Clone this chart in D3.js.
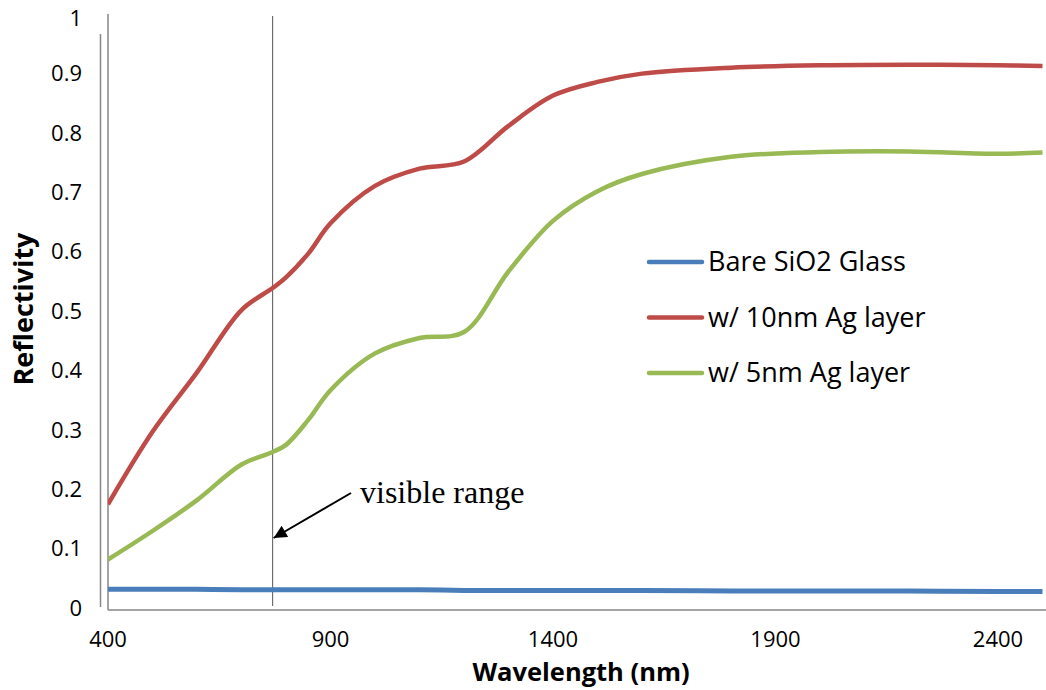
<!DOCTYPE html>
<html>
<head>
<meta charset="utf-8">
<script src="https://cdn.jsdelivr.net/npm/d3@7"></script>
<style>
  body { margin: 0; background: #fff; }
  svg { display: block; }
</style>
</head>
<body>
<div class="graph"></div>
<script>
// Datos
const wavelengths = [400, 500, 600, 700, 770, 800, 850, 900, 1000, 1100, 1200, 1300, 1400, 1500, 1600, 1800, 2000, 2200, 2400, 2500];
const bareGlass   = [0.035, 0.035, 0.035, 0.034, 0.034, 0.034, 0.034, 0.034, 0.034, 0.034, 0.033, 0.033, 0.033, 0.033, 0.033, 0.032, 0.032, 0.032, 0.031, 0.031];
const ag10nm      = [0.178, 0.30, 0.40, 0.505, 0.542, 0.56, 0.60, 0.651, 0.714, 0.743, 0.755, 0.815, 0.866, 0.889, 0.903, 0.913, 0.917, 0.918, 0.917, 0.916];
const ag5nm       = [0.085, 0.133, 0.185, 0.245, 0.266, 0.278, 0.32, 0.37, 0.432, 0.458, 0.468, 0.57, 0.655, 0.705, 0.734, 0.763, 0.771, 0.772, 0.768, 0.770];
const seriesNames = ["Bare SiO2 Glass", "w/ 10nm Ag layer", "w/ 5nm Ag layer"];
const seriesColors = ["#4a7ebb", "#be4b48", "#98b954"];
const xTicks = [400, 900, 1400, 1900, 2400];
const yTicks = [0, 0.1, 0.2, 0.3, 0.4, 0.5, 0.6, 0.7, 0.8, 0.9, 1];
const visibleEdge = 770;

const width = 1046;
const height = 690;

const svg = d3.select(".graph")
    .append("svg")
    .attr("width", width)
    .attr("height", height);

// Escalas
const xScale = d3.scaleLinear().domain([400, 2400]).range([108, 998]);
const yScale = d3.scaleLinear().domain([0, 1]).range([610, 16]);
const xEnd = 1046;

const axisFont = "'Open Sans', Lato, sans-serif";

// Línea extra a la izquierda
svg.append("line")
    .attr("x1", 100.5).attr("x2", 100.5)
    .attr("y1", 34).attr("y2", 607)
    .attr("stroke", "#868686").attr("stroke-width", 1.5);

// Ejes
svg.append("line")
    .attr("x1", 108).attr("x2", 108)
    .attr("y1", 14).attr("y2", yScale(0))
    .attr("stroke", "#868686").attr("stroke-width", 1.5);
svg.append("line")
    .attr("x1", 108).attr("x2", xEnd)
    .attr("y1", yScale(0)).attr("y2", yScale(0))
    .attr("stroke", "#868686").attr("stroke-width", 1.5);

// Etiquetas eje Y
svg.append("g")
    .selectAll("text")
    .data(yTicks)
    .join("text")
    .attr("x", 82)
    .attr("y", d => d === 1 ? yScale(d) + 2 : yScale(d) - 2)
    .attr("dy", "0.35em")
    .attr("text-anchor", "end")
    .style("font-family", axisFont)
    .style("font-size", "22px")
    .text(d => d3.format("~g")(d));

// Etiquetas eje X
svg.append("g")
    .selectAll("text")
    .data(xTicks)
    .join("text")
    .attr("x", d => xScale(d))
    .attr("y", 639)
    .attr("dy", "0.35em")
    .attr("text-anchor", "middle")
    .style("font-family", axisFont)
    .style("font-size", "22px")
    .text(d => d);

// Títulos de ejes
svg.append("text")
    .attr("x", 581).attr("y", 672)
    .attr("dy", "0.35em")
    .attr("text-anchor", "middle")
    .style("font-family", axisFont)
    .style("font-size", "25.5px")
    .style("font-weight", "bold")
    .text("Wavelength (nm)");

svg.append("text")
    .attr("transform", "translate(24, 309) rotate(-90)")
    .attr("dy", "0.35em")
    .attr("text-anchor", "middle")
    .style("font-family", axisFont)
    .style("font-size", "27px")
    .style("font-weight", "bold")
    .text("Reflectivity");

// Límite del rango visible
svg.append("line")
    .attr("x1", xScale(visibleEdge)).attr("x2", xScale(visibleEdge))
    .attr("y1", 16).attr("y2", 606)
    .attr("stroke", "#555").attr("stroke-width", 1);

// Series
const series = [bareGlass, ag10nm, ag5nm];
const line = d3.line()
    .x(d => xScale(d[0]))
    .y(d => yScale(d[1]))
    .curve(d3.curveCatmullRom.alpha(0.5));

svg.append("defs").append("clipPath")
    .attr("id", "plot-clip")
    .append("rect")
    .attr("x", 108).attr("y", 0)
    .attr("width", xEnd - 108).attr("height", 612);

svg.append("g")
    .attr("clip-path", "url(#plot-clip)")
    .selectAll("path")
    .data(series)
    .join("path")
    .attr("d", vals => line(wavelengths.map((w, i) => [w, vals[i]])))
    .attr("fill", "none")
    .attr("stroke", (d, i) => seriesColors[i])
    .attr("stroke-width", (d, i) => i === 0 ? 5 : 4.5)
    .attr("stroke-linejoin", "round");

// Leyenda
const legend = svg.append("g").attr("transform", "translate(649, 262)");
seriesNames.forEach((name, i) => {
    const row = legend.append("g").attr("transform", `translate(0, ${i * 55.5})`);
    row.append("line")
        .attr("x1", 0).attr("x2", 53)
        .attr("stroke", seriesColors[i])
        .attr("stroke-width", 4.5)
        .attr("stroke-linecap", "round");
    row.append("text")
        .attr("x", 59)
        .attr("dy", "0.35em")
        .style("font-family", axisFont)
        .style("font-size", "27px")
        .text(name);
});

// Anotación "visible range"
svg.append("defs").append("marker")
    .attr("id", "arrow")
    .attr("viewBox", "0 0 10 10")
    .attr("refX", 10).attr("refY", 5)
    .attr("markerWidth", 16).attr("markerHeight", 13)
    .attr("markerUnits", "userSpaceOnUse")
    .attr("orient", "auto")
    .append("path")
    .attr("d", "M0,0 L10,5 L0,10 Z")
    .attr("fill", "#000");

svg.append("line")
    .attr("x1", 351).attr("y1", 493)
    .attr("x2", xScale(visibleEdge) + 1).attr("y2", 538)
    .attr("stroke", "#000").attr("stroke-width", 2)
    .attr("marker-end", "url(#arrow)");

svg.append("text")
    .attr("x", 360).attr("y", 503)
    .style("font-family", "'Liberation Serif', 'DejaVu Serif', serif")
    .style("font-size", "32px")
    .text("visible range");
</script>
</body>
</html>
